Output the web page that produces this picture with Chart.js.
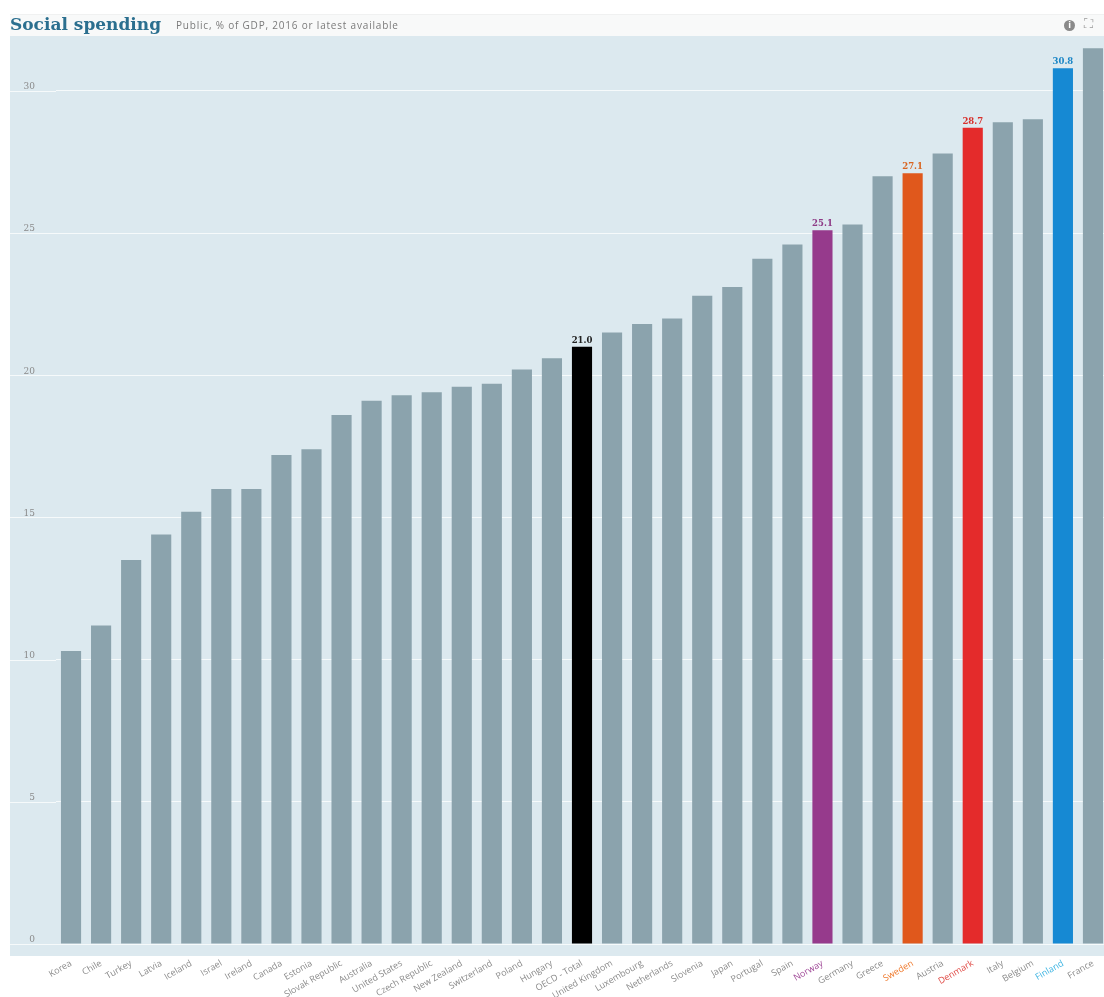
<!DOCTYPE html>
<html>
<head>
<meta charset="utf-8">
<script src="https://cdn.jsdelivr.net/npm/chart.js@4"></script>
<style>
  html, body { margin: 0; padding: 0; background: #fff; overflow: hidden; }
  #wrap { position: relative; width: 1104px; height: 997px; overflow: hidden; }
  #chart { position: absolute; left: 0; top: 0; }
  #header { position: absolute; left: 10px; top: 14px; width: 1094px; height: 22px; background: #f8f9f9; border-top: 1px solid #f0f1f1; }
  #title { position: absolute; left: 10px; top: 14px; font-family: 'DejaVu Serif', serif; font-weight: bold; font-size: 17px; line-height: 20px; color: #2b6f8f; }
  #subtitle { position: absolute; left: 176px; top: 18px; font-family: 'Open Sans', sans-serif; font-size: 10px; line-height: 14px; letter-spacing: 0.8px; color: #7a7a7a; }
  #info { position: absolute; left: 1064px; top: 20px; width: 11px; height: 11px; border-radius: 50%; background: #8a8a8a; color: #fff; font: bold 8px 'DejaVu Sans', sans-serif; text-align: center; line-height: 11px; }
  #expand { position: absolute; left: 1084px; top: 16px; font: 13px 'DejaVu Sans', sans-serif; color: #9a9a9a; }
</style>
</head>
<body>
<div id="wrap">
  <div id="header"></div>
  <canvas id="chart" width="1108" height="997"></canvas>
  <div id="title">Social spending</div>
  <div id="subtitle">Public, % of GDP, 2016 or latest available</div>
  <div id="info">i</div>
  <div id="expand">⛶</div>
</div>
<script>
// ---- Data ----
const categories = ['Korea','Chile','Turkey','Latvia','Iceland','Israel','Ireland','Canada','Estonia','Slovak Republic','Australia','United States','Czech Republic','New Zealand','Switzerland','Poland','Hungary','OECD - Total','United Kingdom','Luxembourg','Netherlands','Slovenia','Japan','Portugal','Spain','Norway','Germany','Greece','Sweden','Austria','Denmark','Italy','Belgium','Finland','France'];
const values = [10.3,11.2,13.5,14.4,15.2,16.0,16.0,17.2,17.4,18.6,19.1,19.3,19.4,19.6,19.7,20.2,20.6,21.0,21.5,21.8,22.0,22.8,23.1,24.1,24.6,25.1,25.3,27.0,27.1,27.8,28.7,28.9,29.0,30.8,31.5];
const yTicks = [0,5,10,15,20,25,30];
const labelledCategories = ['OECD - Total','Norway','Sweden','Denmark','Finland'];

// ---- Styles ----
const baseBar = '#8ba3ad';
const barColors = { 'OECD - Total': '#000000', 'Norway': '#963a8c', 'Sweden': '#e0581c', 'Denmark': '#e42b2b', 'Finland': '#1689d3' };
const labelColors = { 'Norway': '#a04a98', 'Sweden': '#ef7a2e', 'Denmark': '#e04a45', 'Finland': '#3db4e2' };
const valueLabelColors = { 'OECD - Total': '#222222', 'Norway': '#8e3a86', 'Sweden': '#d9641f', 'Denmark': '#d8302c', 'Finland': '#1b86c6' };

const bgPlugin = {
  id: 'bg',
  beforeDraw(chart) {
    const ctx = chart.ctx;
    ctx.save();
    ctx.fillStyle = '#dce9ef';
    ctx.fillRect(10, 36, chart.width - 10, 920);
    ctx.restore();
  },
  beforeDatasetsDraw(chart) {
    const ctx = chart.ctx, y = chart.scales.y, area = chart.chartArea;
    ctx.save();
    ctx.strokeStyle = 'rgba(255,255,255,0.75)';
    ctx.lineWidth = 1;
    yTicks.forEach(v => {
      const py = Math.round(y.getPixelForValue(v)) + 0.5;
      ctx.beginPath(); ctx.moveTo(10, py); ctx.lineTo(area.left, py); ctx.stroke();
    });
    ctx.restore();
  },
  afterDatasetsDraw(chart) {
    const ctx = chart.ctx, meta = chart.getDatasetMeta(0);
    ctx.save();
    ctx.font = 'bold 8.5px "DejaVu Serif", serif';
    ctx.textAlign = 'center';
    ctx.textBaseline = 'bottom';
    categories.forEach((c, i) => {
      if (!labelledCategories.includes(c)) return;
      const el = meta.data[i];
      ctx.fillStyle = valueLabelColors[c];
      ctx.fillText(values[i].toFixed(1), el.x, el.y - 2);
    });
    ctx.restore();
  }
};

new Chart(document.getElementById('chart'), {
  type: 'bar',
  data: {
    labels: categories,
    datasets: [{
      data: values,
      backgroundColor: categories.map(c => barColors[c] || baseBar),
      borderWidth: 0,
      categoryPercentage: 1.0,
      barPercentage: 0.67
    }]
  },
  options: {
    responsive: false,
    animation: false,
    devicePixelRatio: 1,
    layout: { padding: { top: 34, left: 0, right: 0, bottom: 0 } },
    plugins: { legend: { display: false }, tooltip: { enabled: false } },
    scales: {
      x: {
        grid: { display: false, drawTicks: false },
        border: { display: false },
        ticks: {
          autoSkip: false,
          minRotation: 30,
          maxRotation: 30,
          padding: 14,
          font: { family: '"Open Sans", sans-serif', size: 9 },
          color: (ctx) => labelColors[categories[ctx.index]] || '#8a8a8a'
        },
        afterFit(scale) { scale.height = 53; scale.paddingLeft = 0; scale.paddingRight = 0; }
      },
      y: {
        min: 0,
        max: 32,
        grid: { color: 'rgba(255,255,255,0.75)', drawTicks: false, lineWidth: 1 },
        border: { display: false },
        ticks: {
          stepSize: 5,
          includeBounds: false,
          padding: 21,
          labelOffset: -4,
          font: { family: '"DejaVu Serif", serif', size: 9 },
          color: '#8a8a8a'
        },
        afterFit(scale) { scale.width = 56; }
      }
    }
  },
  plugins: [bgPlugin]
});
</script>
</body>
</html>
